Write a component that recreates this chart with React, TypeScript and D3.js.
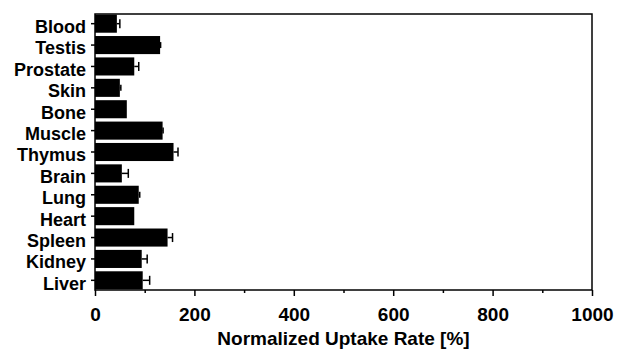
import React, { useRef, useEffect } from "react";
import * as d3 from "d3";

// data
const organs = ["Blood", "Testis", "Prostate", "Skin", "Bone", "Muscle", "Thymus", "Brain", "Lung", "Heart", "Spleen", "Kidney", "Liver"];
const uptake = [44, 131, 79, 50, 64, 136, 158, 54, 88, 79, 146, 94, 96];
const errors = [6, 1, 9, 2, 0, 1, 9, 13, 2, 0, 10, 11, 14];
const majorTicks = [0, 200, 400, 600, 800, 1000];
const minorTicks = [100, 300, 500, 700, 900];

const font = "'Liberation Sans', Arial, Helvetica, sans-serif";

export default function App() {
  const ref = useRef<SVGSVGElement>(null);
  const width = 618;
  const height = 353;

  useEffect(() => {
    const margin = { top: 14, right: 26, bottom: 63, left: 95 };
    const svg = d3.select(ref.current);
    svg.selectAll("*").remove();

    const x = d3.scaleLinear().domain([0, 1000]).range([margin.left, width - margin.right]);
    const y = d3.scaleBand()
      .domain(organs)
      .range([margin.top, height - margin.bottom])
      .paddingInner(0.155)
      .paddingOuter(0.03);

    const rows = organs.map((name, i) => ({ name, value: uptake[i], err: errors[i] }));

    // bars
    svg.append("g")
      .selectAll("rect")
      .data(rows)
      .join("rect")
      .attr("x", x(0))
      .attr("y", d => y(d.name)!)
      .attr("width", d => x(d.value) - x(0))
      .attr("height", y.bandwidth())
      .attr("fill", "#000");

    // error bars (only the outer half shows)
    const eb = svg.append("g").attr("stroke", "#000").attr("stroke-width", 1.5);
    rows.filter(d => d.err > 0).forEach(d => {
      const cy = y(d.name)! + y.bandwidth() / 2;
      const h = d.err < 3 ? 3 : 4.5;
      eb.append("line")
        .attr("x1", x(d.value)).attr("x2", x(d.value + d.err))
        .attr("y1", cy).attr("y2", cy);
      eb.append("line")
        .attr("x1", x(d.value + d.err)).attr("x2", x(d.value + d.err))
        .attr("y1", cy - h).attr("y2", cy + h);
    });

    // left axis
    svg.append("g")
      .attr("transform", `translate(${x(0)},0)`)
      .call(d3.axisLeft(y).tickSize(4).tickPadding(5))
      .call(g => g.select(".domain").remove())
      .call(g => g.selectAll("line").attr("stroke", "#000").attr("stroke-width", 1.5))
      .call(g => g.selectAll("text")
        .attr("dy", "0.52em")
        .attr("font-size", 18)
        .attr("font-weight", "bold")
        .attr("font-family", font)
        .attr("fill", "#000"));

    // bottom axis, major + minor ticks
    const bottom = height - margin.bottom;
    svg.append("g")
      .attr("transform", `translate(0,${bottom})`)
      .call(d3.axisBottom(x).tickValues(minorTicks).tickSize(3).tickFormat(() => ""))
      .call(g => g.select(".domain").remove())
      .call(g => g.selectAll("line").attr("stroke", "#000").attr("stroke-width", 1.5));

    svg.append("g")
      .attr("transform", `translate(0,${bottom})`)
      .call(d3.axisBottom(x).tickValues(majorTicks).tickSize(6).tickPadding(12).tickFormat(d3.format("d")))
      .call(g => g.select(".domain").remove())
      .call(g => g.selectAll("line").attr("stroke", "#000").attr("stroke-width", 1.5))
      .call(g => g.selectAll("text")
        .attr("font-size", 19)
        .attr("font-weight", "bold")
        .attr("font-family", font)
        .attr("fill", "#000"));

    // frame
    svg.append("rect")
      .attr("x", x(0))
      .attr("y", margin.top)
      .attr("width", x(1000) - x(0))
      .attr("height", bottom - margin.top)
      .attr("fill", "none")
      .attr("stroke", "#000")
      .attr("stroke-width", 1.5);

    // axis title
    svg.append("text")
      .attr("x", (x(0) + x(1000)) / 2)
      .attr("y", 345)
      .attr("text-anchor", "middle")
      .attr("font-size", 19)
      .attr("font-weight", "bold")
      .attr("font-family", font)
      .attr("fill", "#000")
      .text("Normalized Uptake Rate [%]");
  }, []);

  return (
    <svg
      ref={ref}
      width={width}
      height={height}
      style={{ position: "absolute", left: 0, top: 0, background: "#fff" }}
    />
  );
}
